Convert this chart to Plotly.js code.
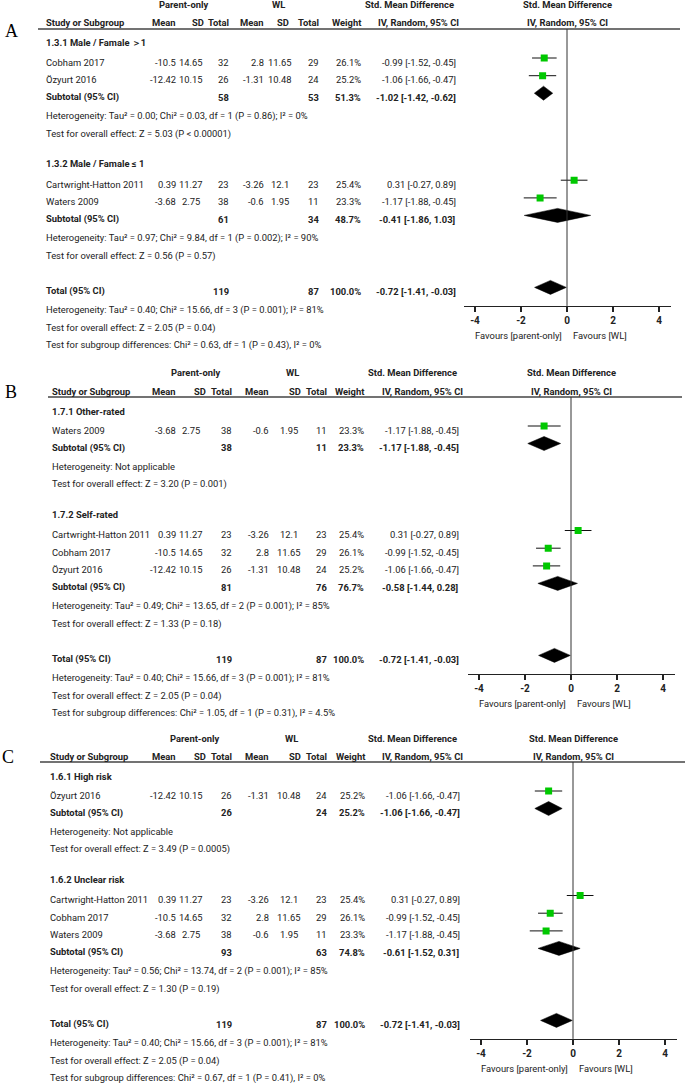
<!DOCTYPE html>
<html>
<head>
<meta charset="utf-8">
<script src="https://cdn.plot.ly/plotly-3.0.1.min.js"></script>
<style>
  html, body { margin: 0; padding: 0; background: #fff; }
  #plot { width: 685px; height: 1084px; }
</style>
</head>
<body>
<div id="plot"></div>
<script>
// study level data (Parent-only vs WL)
var studies = ['Cobham 2017', 'Özyurt 2016', 'Cartwright-Hatton 2011', 'Waters 2009'];
var poMean = [-10.5, -12.42, 0.39, -3.68];
var poSD = [14.65, 10.15, 11.27, 2.75];
var poN = [32, 26, 23, 38];
var wlMean = [2.8, -1.31, -3.26, -0.6];
var wlSD = [11.65, 10.48, 12.1, 1.95];
var wlN = [29, 24, 23, 11];
var weight = [26.1, 25.2, 25.4, 23.3];
var smd = [-0.99, -1.06, 0.31, -1.17];
var smdLo = [-1.52, -1.66, -0.27, -1.88];
var smdHi = [-0.45, -0.47, 0.89, -0.45];

// subgroups per panel
var panelLetters = ['A', 'B', 'C'];
var groupNames = [
  ['1.3.1 Male / Famale ＞1', '1.3.2 Male / Famale ≤ 1'],
  ['1.7.1 Other-rated', '1.7.2 Self-rated'],
  ['1.6.1 High risk', '1.6.2 Unclear risk']
];
var groupStudies = [
  [[0, 1], [2, 3]],
  [[3], [2, 0, 1]],
  [[1], [2, 0, 3]]
];
var subN1 = [[58, 61], [38, 81], [26, 93]];
var subN2 = [[53, 34], [11, 76], [24, 63]];
var subWeight = [[51.3, 48.7], [23.3, 76.7], [25.2, 74.8]];
var subSmd = [[-1.02, -0.41], [-1.17, -0.58], [-1.06, -0.61]];
var subLo = [[-1.42, -1.86], [-1.88, -1.44], [-1.66, -1.52]];
var subHi = [[-0.62, 1.03], [-0.45, 0.28], [-0.47, 0.31]];
var subHet = [
  ['Heterogeneity: Tau² = 0.00; Chi² = 0.03, df = 1 (P = 0.86); I² = 0%',
   'Heterogeneity: Tau² = 0.97; Chi² = 9.84, df = 1 (P = 0.002); I² = 90%'],
  ['Heterogeneity: Not applicable',
   'Heterogeneity: Tau² = 0.49; Chi² = 13.65, df = 2 (P = 0.001); I² = 85%'],
  ['Heterogeneity: Not applicable',
   'Heterogeneity: Tau² = 0.56; Chi² = 13.74, df = 2 (P = 0.001); I² = 85%']
];
var subTest = [
  ['Test for overall effect: Z = 5.03 (P < 0.00001)', 'Test for overall effect: Z = 0.56 (P = 0.57)'],
  ['Test for overall effect: Z = 3.20 (P = 0.001)', 'Test for overall effect: Z = 1.33 (P = 0.18)'],
  ['Test for overall effect: Z = 3.49 (P = 0.0005)', 'Test for overall effect: Z = 1.30 (P = 0.19)']
];
var totalN1 = 119, totalN2 = 87, totalWeight = 100;
var totalSmd = -0.72, totalLo = -1.41, totalHi = -0.03;
var totalHet = 'Heterogeneity: Tau² = 0.40; Chi² = 15.66, df = 3 (P = 0.001); I² = 81%';
var totalTest = 'Test for overall effect: Z = 2.05 (P = 0.04)';
var subgroupDiff = [
  'Test for subgroup differences: Chi² = 0.63, df = 1 (P = 0.43), I² = 0%',
  'Test for subgroup differences: Chi² = 1.05, df = 1 (P = 0.31), I² = 4.5%',
  'Test for subgroup differences: Chi² = 0.67, df = 1 (P = 0.41), I² = 0%'
];
var xTicks = [-4, -2, 0, 2, 4];

// page setup
var W = 685, H = 1084;
var FONT = 'Roboto, "Liberation Sans", Arial, sans-serif';
var FS = 9.4;
var INK = '#222';
var GREEN = '#00c800';
var UNIT = 23; // px per SMD unit

// column positions of each panel (px)
var panelBox = [
  {top: 5, letterX: 11, letterDy: 8, studyX: 45, meanR: 177, sdC: 191, sdHR: 205, totR: 230, wlMeanR: 265, wlSdC: 280,
   wlSdHR: 290, wlTotR: 320, wtR: 362, ciR: 457, stdC: 409, poC: 184, wlC: 278, lineL: 38, lineR: 680, zero: 567},
  {top: 373, letterX: 11, letterDy: 1, studyX: 51, meanR: 177, sdC: 191, sdHR: 207, totR: 233, wlMeanR: 270, wlSdC: 289,
   wlSdHR: 302, wlTotR: 328, wtR: 365, ciR: 460, stdC: 413, poC: 196, wlC: 292, lineL: 48, lineR: 682, zero: 571},
  {top: 738, letterX: 8, letterDy: 1, studyX: 49, meanR: 177, sdC: 191, sdHR: 207, totR: 233, wlMeanR: 270, wlSdC: 289,
   wlSdHR: 302, wlTotR: 328, wtR: 366, ciR: 461, stdC: 413, poC: 195, wlC: 291, lineL: 40, lineR: 685, zero: 573}
];

var annotations = [], shapes = [], traces = [];
var layout = {
  width: W, height: H,
  margin: {l: 0, r: 0, t: 0, b: 0},
  paper_bgcolor: 'white', plot_bgcolor: 'rgba(0,0,0,0)',
  showlegend: false
};

function py(y) { return 1 - y / H; }

function txt(x, y, s, anchor, bold, xref) {
  annotations.push({
    xref: xref || 'paper', yref: 'paper',
    x: xref ? x : x / W, y: py(y),
    text: s, showarrow: false,
    xanchor: anchor, yanchor: 'middle',
    borderpad: 0,
    font: {family: FONT, size: FS, color: INK, weight: bold ? 'bold' : 'normal'}
  });
}

function ciText(e, l, h) {
  return e.toFixed(2) + ' [' + l.toFixed(2) + ', ' + h.toFixed(2) + ']';
}

panelBox.forEach(function (P, k) {
  var sfx = k === 0 ? '' : String(k + 1);
  var xa = 'x' + sfx, ya = 'y' + sfx;
  var hdr1 = P.top, hdr2 = P.top + 18, lineY = P.top + 24;

  function diamond(e, l, h, y) {
    traces.push({
      type: 'scatter', mode: 'lines', xaxis: xa, yaxis: ya,
      x: [l, e, h, e, l], y: [y, y - 7, y, y + 7, y],
      fill: 'toself', fillcolor: '#000',
      line: {color: '#000', width: 0.5},
      hoverinfo: 'skip'
    });
  }

  // panel letter
  annotations.push({
    xref: 'paper', yref: 'paper', x: P.letterX / W, y: py(hdr2 + P.letterDy), text: panelLetters[k],
    showarrow: false, xanchor: 'center', yanchor: 'middle',
    font: {family: '"Liberation Serif", "DejaVu Serif", serif', size: 18, color: '#000'}
  });

  // headers
  txt(P.poC, hdr1, 'Parent-only', 'center', true);
  txt(P.wlC, hdr1, 'WL', 'center', true);
  txt(P.stdC, hdr1, 'Std. Mean Difference', 'center', true);
  txt(0, hdr1, 'Std. Mean Difference', 'center', true, xa);
  txt(P.studyX, hdr2, 'Study or Subgroup', 'left', true);
  txt(P.meanR, hdr2, 'Mean', 'right', true);
  txt(P.sdHR, hdr2, 'SD', 'right', true);
  txt(P.totR, hdr2, 'Total', 'right', true);
  txt(P.wlMeanR, hdr2, 'Mean', 'right', true);
  txt(P.wlSdHR, hdr2, 'SD', 'right', true);
  txt(P.wlTotR, hdr2, 'Total', 'right', true);
  txt(P.wtR, hdr2, 'Weight', 'right', true);
  txt(P.stdC + 9, hdr2, 'IV, Random, 95% CI', 'center', true);
  txt(0, hdr2, 'IV, Random, 95% CI', 'center', true, xa);
  shapes.push({type: 'line', xref: 'paper', yref: 'paper', x0: P.lineL / W, x1: P.lineR / W,
    y0: py(lineY), y1: py(lineY), line: {color: '#444', width: 1.3}});

  var mk = {x: [], y: [], lo: [], hi: []};
  var cur = P.top + 38;
  for (var g = 0; g < 2; g++) {
    txt(P.studyX, cur, groupNames[k][g], 'left', true);
    cur += g === 0 ? 19 : 20.5;
    groupStudies[k][g].forEach(function (i, j) {
      if (j > 0) cur += 17.7;
      txt(P.studyX, cur, studies[i], 'left', false);
      txt(P.meanR, cur, String(poMean[i]), 'right', false);
      txt(P.sdC, cur, String(poSD[i]), 'center', false);
      txt(P.totR, cur, String(poN[i]), 'right', false);
      txt(P.wlMeanR, cur, String(wlMean[i]), 'right', false);
      txt(P.wlSdC, cur, String(wlSD[i]), 'center', false);
      txt(P.wlTotR, cur, String(wlN[i]), 'right', false);
      txt(P.wtR, cur, weight[i].toFixed(1) + '%', 'right', false);
      txt(P.ciR, cur, ciText(smd[i], smdLo[i], smdHi[i]), 'right', false);
      mk.x.push(smd[i]);
      mk.y.push(cur - 4);
      mk.lo.push(smd[i] - smdLo[i]);
      mk.hi.push(smdHi[i] - smd[i]);
    });
    cur += 17.5;
    txt(P.studyX, cur, 'Subtotal (95% CI)', 'left', true);
    txt(P.totR, cur, String(subN1[k][g]), 'right', true);
    txt(P.wlTotR, cur, String(subN2[k][g]), 'right', true);
    txt(P.wtR, cur, subWeight[k][g].toFixed(1) + '%', 'right', true);
    txt(P.ciR, cur, ciText(subSmd[k][g], subLo[k][g], subHi[k][g]), 'right', true);
    diamond(subSmd[k][g], subLo[k][g], subHi[k][g], cur - 4);
    cur += 18.5;
    txt(P.studyX, cur, subHet[k][g], 'left', false);
    cur += 18;
    txt(P.studyX, cur, subTest[k][g], 'left', false);
    if (g === 0) cur += 30;
  }

  var totY = cur + 35.5;
  var axisY = totY + 14.5;
  txt(P.studyX, totY, 'Total (95% CI)', 'left', true);
  txt(P.totR, totY, String(totalN1), 'right', true);
  txt(P.wlTotR, totY, String(totalN2), 'right', true);
  txt(P.wtR, totY, totalWeight.toFixed(1) + '%', 'right', true);
  txt(P.ciR, totY, ciText(totalSmd, totalLo, totalHi), 'right', true);
  diamond(totalSmd, totalLo, totalHi, totY - 4);
  txt(P.studyX, totY + 18.5, totalHet, 'left', false);
  txt(P.studyX, totY + 36.5, totalTest, 'left', false);
  txt(P.studyX, totY + 54, subgroupDiff[k], 'left', false);

  // study squares with CI whiskers
  traces.push({
    type: 'scatter', mode: 'markers', xaxis: xa, yaxis: ya,
    x: mk.x, y: mk.y,
    marker: {symbol: 'square', size: 7, color: GREEN},
    error_x: {type: 'data', symmetric: false, array: mk.hi, arrayminus: mk.lo,
      color: '#111', thickness: 1, width: 0},
    hoverinfo: 'skip'
  });

  // line of no effect
  shapes.push({type: 'line', xref: xa, yref: 'paper', x0: 0, x1: 0, y0: py(lineY), y1: py(axisY),
    line: {color: '#333', width: 1}});

  // favours labels
  annotations.push({xref: xa, yref: 'paper', x: 0, y: py(axisY + 30), text: 'Favours [parent-only]',
    showarrow: false, xanchor: 'right', yanchor: 'middle', xshift: -3,
    font: {family: FONT, size: FS, color: INK}});
  annotations.push({xref: xa, yref: 'paper', x: 0, y: py(axisY + 30), text: 'Favours [WL]',
    showarrow: false, xanchor: 'left', yanchor: 'middle', xshift: 4,
    font: {family: FONT, size: FS, color: INK}});

  // y axis in page pixels, limited to this panel; bottom edge is the forest axis line
  var yTop = P.top - 4;
  layout['yaxis' + sfx] = {
    domain: [py(axisY), py(yTop)], range: [axisY, yTop], anchor: xa,
    visible: false, fixedrange: true
  };
  layout['xaxis' + sfx] = {
    domain: [(P.zero - 4.5 * UNIT) / W, (P.zero + 4.5 * UNIT) / W],
    range: [-4.5, 4.5], anchor: ya,
    showline: true, linecolor: INK, linewidth: 1.3,
    ticks: 'outside', ticklen: 5, tickwidth: 1.3, tickcolor: INK,
    tickvals: xTicks, ticktext: xTicks.map(String),
    tickfont: {family: FONT, size: 10, color: INK, weight: 'bold'},
    showgrid: false, zeroline: false, fixedrange: true
  };
});

layout.annotations = annotations;
layout.shapes = shapes;

Plotly.newPlot('plot', traces, layout, {displayModeBar: false, staticPlot: true});
</script>
</body>
</html>
